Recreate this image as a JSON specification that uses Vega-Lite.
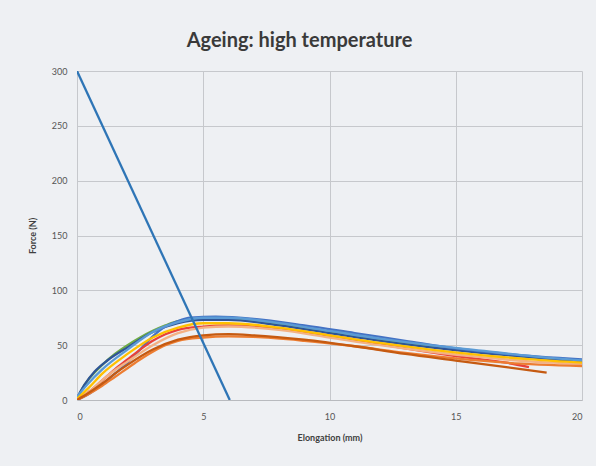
{
  "$schema": "https://vega.github.io/schema/vega-lite/v6.json",
  "autosize": "none",
  "width": 505,
  "height": 329,
  "padding": {"left": 77, "top": 71, "right": 14, "bottom": 66},
  "background": "#eef0f3",
  "title": {"text": "Ageing: high temperature", "font": "Lato", "fontSize": 20, "fontWeight": "bold", "color": "#3a3a3a", "anchor": "middle", "dx": -30, "offset": 16},
  "config": {"view": {"stroke": null}, "font": "Lato"},
  "data": {"values": [
    {"s":"green","x":0,"y":0},{"s":"green","x":0.2,"y":10},{"s":"green","x":0.5,"y":20},{"s":"green","x":1,"y":32},{"s":"green","x":1.5,"y":42},{"s":"green","x":2,"y":50},{"s":"green","x":2.5,"y":57},{"s":"green","x":3,"y":63},{"s":"green","x":3.5,"y":68},{"s":"green","x":4,"y":72},{"s":"green","x":5,"y":74},{"s":"green","x":6,"y":74},{"s":"green","x":7,"y":72},{"s":"green","x":8,"y":69},{"s":"green","x":10,"y":62},{"s":"green","x":12,"y":55},{"s":"green","x":14,"y":49},{"s":"green","x":16,"y":44},{"s":"green","x":18,"y":39},{"s":"green","x":20,"y":35},
    {"s":"navy","x":0,"y":2},{"s":"navy","x":0.3,"y":14},{"s":"navy","x":0.7,"y":26},{"s":"navy","x":1.2,"y":36},{"s":"navy","x":2,"y":48},{"s":"navy","x":3,"y":62},{"s":"navy","x":4,"y":70},{"s":"navy","x":5,"y":73},{"s":"navy","x":6,"y":73},{"s":"navy","x":8,"y":68},{"s":"navy","x":10,"y":61},{"s":"navy","x":12,"y":54},{"s":"navy","x":14,"y":48},{"s":"navy","x":16,"y":43},{"s":"navy","x":18,"y":39},{"s":"navy","x":20,"y":35},
    {"s":"blue","x":0,"y":0},{"s":"blue","x":0.5,"y":6},{"s":"blue","x":1,"y":14},{"s":"blue","x":1.5,"y":24},{"s":"blue","x":2,"y":34},{"s":"blue","x":2.5,"y":46},{"s":"blue","x":3,"y":58},{"s":"blue","x":3.5,"y":67},{"s":"blue","x":4,"y":72},{"s":"blue","x":4.5,"y":75},{"s":"blue","x":5.5,"y":76},{"s":"blue","x":7,"y":74},{"s":"blue","x":9,"y":68},{"s":"blue","x":11,"y":61},{"s":"blue","x":13,"y":54},{"s":"blue","x":15,"y":47},{"s":"blue","x":17,"y":42},{"s":"blue","x":20,"y":37},
    {"s":"lightblue","x":0,"y":3},{"s":"lightblue","x":0.4,"y":14},{"s":"lightblue","x":1,"y":28},{"s":"lightblue","x":2,"y":46},{"s":"lightblue","x":3,"y":62},{"s":"lightblue","x":4,"y":71},{"s":"lightblue","x":5,"y":75},{"s":"lightblue","x":6,"y":75},{"s":"lightblue","x":8,"y":70},{"s":"lightblue","x":10,"y":63},{"s":"lightblue","x":12,"y":56},{"s":"lightblue","x":14,"y":50},{"s":"lightblue","x":16,"y":45},{"s":"lightblue","x":18,"y":40},{"s":"lightblue","x":20,"y":36},
    {"s":"red","x":0,"y":0},{"s":"red","x":0.5,"y":8},{"s":"red","x":1,"y":18},{"s":"red","x":1.5,"y":28},{"s":"red","x":2,"y":37},{"s":"red","x":2.5,"y":46},{"s":"red","x":3,"y":54},{"s":"red","x":3.5,"y":60},{"s":"red","x":4,"y":64},{"s":"red","x":5,"y":67},{"s":"red","x":6,"y":68},{"s":"red","x":7,"y":67},{"s":"red","x":9,"y":62},{"s":"red","x":11,"y":55},{"s":"red","x":13,"y":47},{"s":"red","x":15,"y":40},{"s":"red","x":17,"y":34},{"s":"red","x":17.9,"y":30},
    {"s":"salmon","x":0,"y":0},{"s":"salmon","x":0.6,"y":10},{"s":"salmon","x":1.2,"y":22},{"s":"salmon","x":2,"y":35},{"s":"salmon","x":3,"y":50},{"s":"salmon","x":4,"y":61},{"s":"salmon","x":5,"y":66},{"s":"salmon","x":6,"y":67},{"s":"salmon","x":8,"y":64},{"s":"salmon","x":10,"y":57},{"s":"salmon","x":12,"y":50},{"s":"salmon","x":14,"y":44},{"s":"salmon","x":16,"y":39},{"s":"salmon","x":18,"y":35},{"s":"salmon","x":20,"y":33},
    {"s":"yellow","x":0,"y":1},{"s":"yellow","x":0.5,"y":12},{"s":"yellow","x":1,"y":24},{"s":"yellow","x":2,"y":42},{"s":"yellow","x":3,"y":57},{"s":"yellow","x":4,"y":66},{"s":"yellow","x":5,"y":70},{"s":"yellow","x":6,"y":70},{"s":"yellow","x":8,"y":66},{"s":"yellow","x":10,"y":59},{"s":"yellow","x":12,"y":52},{"s":"yellow","x":14,"y":46},{"s":"yellow","x":16,"y":41},{"s":"yellow","x":18,"y":37},{"s":"yellow","x":20,"y":34},
    {"s":"orange","x":0,"y":0},{"s":"orange","x":0.5,"y":6},{"s":"orange","x":1,"y":13},{"s":"orange","x":1.5,"y":21},{"s":"orange","x":2,"y":29},{"s":"orange","x":2.5,"y":37},{"s":"orange","x":3,"y":44},{"s":"orange","x":3.5,"y":50},{"s":"orange","x":4,"y":54},{"s":"orange","x":5,"y":57},{"s":"orange","x":6,"y":58},{"s":"orange","x":7,"y":57.5},{"s":"orange","x":9,"y":54},{"s":"orange","x":11,"y":49},{"s":"orange","x":13,"y":43},{"s":"orange","x":15,"y":38},{"s":"orange","x":17,"y":34},{"s":"orange","x":20,"y":31},
    {"s":"brown","x":0,"y":0},{"s":"brown","x":0.5,"y":7},{"s":"brown","x":1,"y":15},{"s":"brown","x":1.5,"y":24},{"s":"brown","x":2,"y":32},{"s":"brown","x":3,"y":46},{"s":"brown","x":4,"y":55},{"s":"brown","x":5,"y":59},{"s":"brown","x":6,"y":60},{"s":"brown","x":7,"y":59},{"s":"brown","x":9,"y":55},{"s":"brown","x":11,"y":49},{"s":"brown","x":13,"y":42},{"s":"brown","x":15,"y":36},{"s":"brown","x":17,"y":30},{"s":"brown","x":18.6,"y":25},
    {"s":"stiff","x":0,"y":300},{"s":"stiff","x":6.05,"y":0}
  ]},
  "mark": {"type": "line", "interpolate": "monotone", "strokeWidth": 2.3, "clip": true},
  "encoding": {
    "x": {"field": "x", "type": "quantitative", "scale": {"domain": [0, 20], "nice": false},
      "axis": {"values": [0,5,10,15,20], "title": "Elongation (mm)", "ticks": false, "labelPadding": 12, "labelFontSize": 9, "labelColor": "#555555", "titleFontSize": 9, "titleFontWeight": "bold", "titleColor": "#404040", "titlePadding": 12, "gridColor": "#c6c8cc", "domainColor": "#b8babe"}},
    "y": {"field": "y", "type": "quantitative", "scale": {"domain": [0, 300], "nice": false},
      "axis": {"values": [0,50,100,150,200,250,300], "title": "Force (N)", "ticks": false, "labelPadding": 10, "labelFontSize": 9, "labelColor": "#555555", "titleFontSize": 9, "titleFontWeight": "bold", "titleColor": "#404040", "titlePadding": 14, "gridColor": "#c6c8cc", "domain": false}},
    "color": {"field": "s", "type": "nominal", "legend": null,
      "scale": {"domain": ["orange","brown","red","salmon","yellow","blue","lightblue","navy","green","stiff"],
                "range": ["#ED7D31","#C55A11","#E8413A","#F4B183","#FFC000","#4472C4","#5B9BD5","#2F5597","#70AD47","#2E75B6"]}}
  }
}
